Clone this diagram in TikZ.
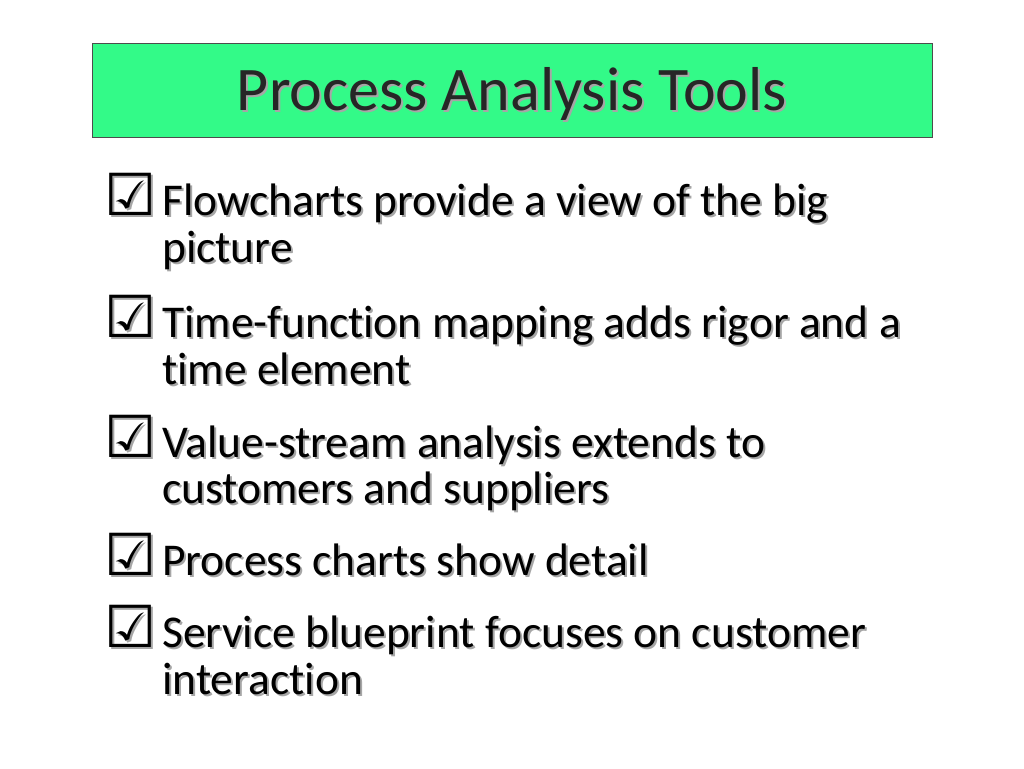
\documentclass[tikz,border=0pt]{standalone}
\usepackage{fontspec}
\setmainfont[Ligatures={NoCommon}]{Carlito}
\newfontfamily\symf{DejaVu Sans}
\begin{document}
\begin{tikzpicture}[x=1pt,y=-1pt,
  title/.style={font=\fontsize{62}{70}\selectfont,text=black!85},
  btxt/.style={anchor=base west,inner sep=0pt,font=\fontsize{45.5}{47}\selectfont},
  chk/.style={anchor=base west,inner sep=0pt,font=\symf\bfseries\fontsize{58}{60}\selectfont}]
\useasboundingbox (0,0) rectangle (1024,768);
\node[draw=black!70,line width=0.8pt,fill={rgb,255:red,51;green,250;blue,136},minimum width=840pt,minimum height=94pt,inner sep=0pt] (tbox) at (512,90) {};
\node[title,text=black!35] at (514,96) {Process Analysis Tools};
\node[title] (t) at (512,94) {Process Analysis Tools};
\foreach \y/\txt [count=\i] in {215/{Flowcharts provide a view of the big},
  262/{picture},
  337/{Time-function mapping adds rigor and a},
  384/{time element},
  457/{Value-stream analysis extends to},
  503/{customers and suppliers},
  575/{Process charts show detail},
  647/{Service blueprint focuses on customer},
  694/{interaction}}{
  \node[btxt,text=black!35] at (164,\y+2) {\txt};
  \node[btxt] (b\i) at (162,\y) {\txt};
}
\foreach \y [count=\i] in {215,337,457,575,647}{
  \node[chk,text=black!35] at (106,\y+2) {☑};
  \node[chk] (c\i) at (104,\y) {☑};
}
\end{tikzpicture}
\end{document}
